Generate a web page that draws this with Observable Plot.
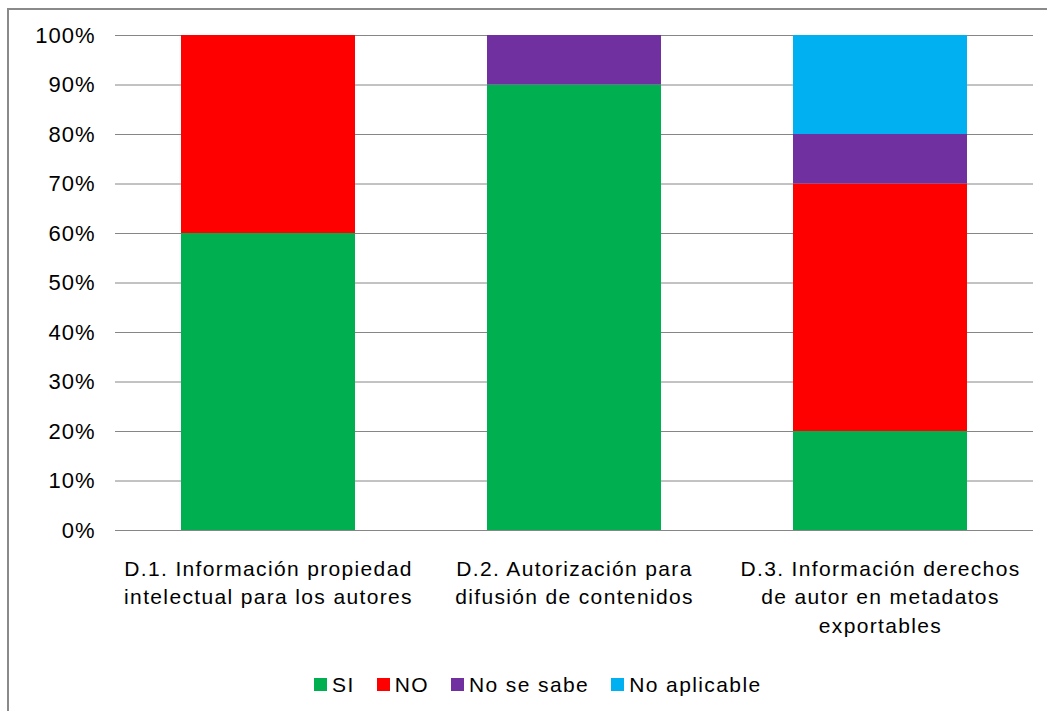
<!DOCTYPE html>
<html>
<head>
<meta charset="utf-8">
<script src="https://cdn.jsdelivr.net/npm/d3@7"></script>
<script src="https://cdn.jsdelivr.net/npm/@observablehq/plot@0.6"></script>
<style>
  html, body { margin: 0; padding: 0; background: #fff; }
  #wrap { position: relative; width: 1047px; height: 711px; overflow: hidden; font-family: "Liberation Sans", Arial, sans-serif; }
  #frame { position: absolute; left: 7px; top: 8px; width: 1200px; height: 900px; border-left: 2px solid #8a8a8a; border-top: 2px solid #8a8a8a; }
  #chart { position: absolute; left: 0; top: 0; }
  #legend { position: absolute; left: 314px; top: 668px; }
  #legend [class*="-swatches"] { font-family: "Liberation Sans", Arial, sans-serif !important; font-size: 21px !important; color: #000 !important; margin: 0 !important; letter-spacing: 1.4px; }
  #legend [class*="-swatch"] { margin-right: 22px !important; }
  #legend [class*="-swatch"] > svg { margin-right: 5px !important; }
  #chart g[aria-label="x-axis tick label"] text { letter-spacing: 1.35px; }
  #chart g[aria-label="y-axis tick label"] text { letter-spacing: 1px; }
</style>
</head>
<body>
<div id="wrap">
  <div id="frame"></div>
  <div id="chart"></div>
  <div id="legend"></div>
</div>
<script>
const categories = [
  "D.1. Información propiedad\nintelectual para los autores",
  "D.2. Autorización para\ndifusión de contenidos",
  "D.3. Información derechos\nde autor en metadatos\nexportables"
];
const series = ["SI", "NO", "No se sabe", "No aplicable"];
const siValues = [60, 90, 20];
const noValues = [40, 0, 50];
const noSeSabeValues = [0, 10, 10];
const noAplicableValues = [0, 0, 20];
const colors = ["#00B050", "#FF0000", "#7030A0", "#00B0F0"];
const yTicks = [0, 10, 20, 30, 40, 50, 60, 70, 80, 90, 100];

const valuesBySeries = [siValues, noValues, noSeSabeValues, noAplicableValues];
const rows = [];
categories.forEach((c, i) => {
  series.forEach((s, j) => {
    rows.push({category: c, series: s, value: valuesBySeries[j][i]});
  });
});

const chart = Plot.plot({
  width: 1047,
  height: 650,
  marginLeft: 115,
  marginRight: 14,
  marginTop: 35,
  marginBottom: 120,
  style: {fontFamily: "'Liberation Sans', Arial, sans-serif", fontSize: "21px", color: "#000", background: "transparent"},
  x: {domain: categories, paddingInner: 0.43, paddingOuter: 0.215, label: null},
  y: {domain: [0, 100], label: null},
  color: {domain: series, range: colors},
  marks: [
    Plot.gridY(yTicks, {stroke: "#868686", strokeOpacity: 1, strokeWidth: 1}),
    Plot.barY(rows, Plot.stackY({order: series}, {x: "category", y: "value", fill: "series"})),
    Plot.axisY({ticks: yTicks, tickSize: 0, tickPadding: 20, tickFormat: d => d + "%", label: null, fill: "#000", fontSize: 22}),
    Plot.axisX({tickSize: 0, tickPadding: 25, label: null, lineHeight: 1.36, fill: "#000", fontSize: 21})
  ]
});
document.getElementById("chart").appendChild(chart);

const legend = Plot.legend({
  color: {domain: series, range: colors},
  legend: "swatches",
  swatchSize: 13,
  style: {fontSize: "21px", fontFamily: "'Liberation Sans', Arial, sans-serif", color: "#000"}
});
document.getElementById("legend").appendChild(legend);
</script>
</body>
</html>
